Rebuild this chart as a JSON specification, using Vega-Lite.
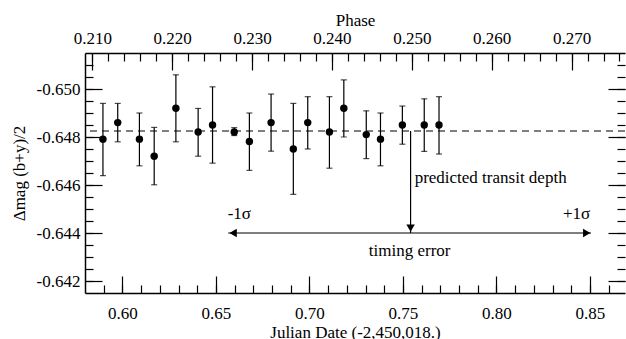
{
  "$schema": "https://vega.github.io/schema/vega-lite/v6.json",
  "width": 626,
  "height": 339,
  "autosize": {"type": "fit", "contains": "padding"},
  "padding": {"left": 10, "top": 11, "right": 0, "bottom": -1},
  "background": "white",
  "config": {
    "font": "Liberation Serif",
    "view": {"stroke": null},
    "axis": {
      "labelFontSize": 17, "titleFontSize": 17, "titleFontWeight": "normal",
      "labelColor": "black", "titleColor": "black", "domainColor": "black", "tickColor": "black",
      "domainWidth": 1.5, "tickWidth": 1.2, "grid": false, "labelOverlap": false, "labelFlush": false
    }
  },
  "datasets": {
    "obs": [
      {"jd": 0.5896, "mag": -0.64791, "lo": -0.64940, "hi": -0.64639},
      {"jd": 0.5975, "mag": -0.64860, "lo": -0.64940, "hi": -0.64780},
      {"jd": 0.6091, "mag": -0.64791, "lo": -0.64900, "hi": -0.64680},
      {"jd": 0.6170, "mag": -0.64720, "lo": -0.64840, "hi": -0.64601},
      {"jd": 0.6286, "mag": -0.64920, "lo": -0.65059, "hi": -0.64780},
      {"jd": 0.6405, "mag": -0.64821, "lo": -0.64919, "hi": -0.64720},
      {"jd": 0.6482, "mag": -0.64850, "lo": -0.65009, "hi": -0.64691},
      {"jd": 0.6598, "mag": -0.64821, "lo": -0.64839, "hi": -0.64806},
      {"jd": 0.6679, "mag": -0.64781, "lo": -0.64900, "hi": -0.64661},
      {"jd": 0.6795, "mag": -0.64860, "lo": -0.64979, "hi": -0.64741},
      {"jd": 0.6914, "mag": -0.64750, "lo": -0.64940, "hi": -0.64561},
      {"jd": 0.6991, "mag": -0.64860, "lo": -0.64968, "hi": -0.64750},
      {"jd": 0.7107, "mag": -0.64821, "lo": -0.64968, "hi": -0.64670},
      {"jd": 0.7184, "mag": -0.64920, "lo": -0.65038, "hi": -0.64800},
      {"jd": 0.7304, "mag": -0.64810, "lo": -0.64909, "hi": -0.64710},
      {"jd": 0.7380, "mag": -0.64791, "lo": -0.64900, "hi": -0.64680},
      {"jd": 0.7497, "mag": -0.64850, "lo": -0.64929, "hi": -0.64770},
      {"jd": 0.7614, "mag": -0.64850, "lo": -0.64959, "hi": -0.64740},
      {"jd": 0.7693, "mag": -0.64850, "lo": -0.64968, "hi": -0.64729}
    ],
    "level": [{"mag": -0.64825}],
    "segments": [
      {"name": "depth", "jd": 0.7541, "jd2": 0.7541, "mag": -0.64825, "mag2": -0.6440},
      {"name": "timing", "jd": 0.6566, "jd2": 0.8506, "mag": -0.6440, "mag2": -0.6440}
    ],
    "heads": [
      {"dir": "down", "jd": 0.7541, "mag": -0.6442},
      {"dir": "left", "jd": 0.6592, "mag": -0.6440},
      {"dir": "right", "jd": 0.8483, "mag": -0.6440}
    ],
    "notes": [
      {"text": "-1σ", "jd": 0.6625, "mag": -0.64479},
      {"text": "+1σ", "jd": 0.8429, "mag": -0.64479},
      {"text": "timing error", "jd": 0.7536, "mag": -0.64326},
      {"text": "predicted transit depth", "jd": 0.7969, "mag": -0.64630}
    ],
    "phase": [{"phase": 0.24, "mag": -0.648}]
  },
  "layer": [
    {
      "data": {"name": "obs"},
      "mark": {"type": "rule", "color": "black", "strokeWidth": 1.2},
      "encoding": {
        "x": {"field": "jd", "type": "quantitative", "scale": {"domain": [0.58, 0.86875], "nice": false, "zero": false},
          "axis": {"orient": "bottom", "title": "Julian Date (-2,450,018.)", "tickSize": -8,
            "values": [0.59,0.6,0.61,0.62,0.63,0.64,0.65,0.66,0.67,0.68,0.69,0.7,0.71,0.72,0.73,0.74,0.75,0.76,0.77,0.78,0.79,0.8,0.81,0.82,0.83,0.84,0.85,0.86],
            "labelExpr": "round(datum.value*100) % 5 == 0 ? format(datum.value, '.2f') : ''",
            "labelPadding": 20, "titlePadding": 3}},
        "y": {"field": "lo", "type": "quantitative", "scale": {"domain": [-0.6515, -0.6415], "reverse": true, "nice": false, "zero": false},
          "axis": {"orient": "left", "title": "Δmag (b+y)/2", "tickSize": -8,
            "values": [-0.651,-0.6505,-0.65,-0.6495,-0.649,-0.6485,-0.648,-0.6475,-0.647,-0.6465,-0.646,-0.6455,-0.645,-0.6445,-0.644,-0.6435,-0.643,-0.6425,-0.642],
            "labelExpr": "round(datum.value*2000) % 4 == 0 ? '-' + format(abs(datum.value), '.3f') : ''",
            "labelPadding": 13, "titlePadding": 8}},
        "y2": {"field": "hi"}
      }
    },
    {
      "data": {"name": "obs"},
      "mark": {"type": "tick", "orient": "horizontal", "color": "black", "size": 6, "thickness": 1.2},
      "encoding": {
        "x": {"field": "jd", "type": "quantitative", "scale": {"domain": [0.58, 0.86875], "nice": false, "zero": false}, "axis": null},
        "y": {"field": "lo", "type": "quantitative", "scale": {"domain": [-0.6515, -0.6415], "reverse": true, "nice": false, "zero": false}, "axis": null}
      }
    },
    {
      "data": {"name": "obs"},
      "mark": {"type": "tick", "orient": "horizontal", "color": "black", "size": 6, "thickness": 1.2},
      "encoding": {
        "x": {"field": "jd", "type": "quantitative", "scale": {"domain": [0.58, 0.86875], "nice": false, "zero": false}, "axis": null},
        "y": {"field": "hi", "type": "quantitative", "scale": {"domain": [-0.6515, -0.6415], "reverse": true, "nice": false, "zero": false}, "axis": null}
      }
    },
    {
      "data": {"name": "level"},
      "mark": {"type": "rule", "color": "black", "strokeWidth": 1, "strokeDash": [7, 5]},
      "encoding": {
        "y": {"field": "mag", "type": "quantitative", "scale": {"domain": [-0.6515, -0.6415], "reverse": true, "nice": false, "zero": false}, "axis": null}
      }
    },
    {
      "data": {"name": "obs"},
      "mark": {"type": "point", "filled": true, "shape": "circle", "size": 55, "color": "black", "opacity": 1},
      "encoding": {
        "x": {"field": "jd", "type": "quantitative", "scale": {"domain": [0.58, 0.86875], "nice": false, "zero": false}, "axis": null},
        "y": {"field": "mag", "type": "quantitative", "scale": {"domain": [-0.6515, -0.6415], "reverse": true, "nice": false, "zero": false}, "axis": null}
      }
    },
    {
      "data": {"name": "segments"},
      "mark": {"type": "rule", "color": "black", "strokeWidth": 1.2},
      "encoding": {
        "x": {"field": "jd", "type": "quantitative", "scale": {"domain": [0.58, 0.86875], "nice": false, "zero": false}, "axis": null},
        "x2": {"field": "jd2"},
        "y": {"field": "mag", "type": "quantitative", "scale": {"domain": [-0.6515, -0.6415], "reverse": true, "nice": false, "zero": false}, "axis": null},
        "y2": {"field": "mag2"}
      }
    },
    {
      "data": {"name": "heads"},
      "transform": [{"filter": "datum.dir == 'down'"}],
      "mark": {"type": "point", "shape": "triangle-down", "filled": true, "size": 72, "color": "black", "opacity": 1},
      "encoding": {
        "x": {"field": "jd", "type": "quantitative", "scale": {"domain": [0.58, 0.86875], "nice": false, "zero": false}, "axis": null},
        "y": {"field": "mag", "type": "quantitative", "scale": {"domain": [-0.6515, -0.6415], "reverse": true, "nice": false, "zero": false}, "axis": null}
      }
    },
    {
      "data": {"name": "heads"},
      "transform": [{"filter": "datum.dir == 'left'"}],
      "mark": {"type": "point", "shape": "triangle-left", "filled": true, "size": 72, "color": "black", "opacity": 1},
      "encoding": {
        "x": {"field": "jd", "type": "quantitative", "scale": {"domain": [0.58, 0.86875], "nice": false, "zero": false}, "axis": null},
        "y": {"field": "mag", "type": "quantitative", "scale": {"domain": [-0.6515, -0.6415], "reverse": true, "nice": false, "zero": false}, "axis": null}
      }
    },
    {
      "data": {"name": "heads"},
      "transform": [{"filter": "datum.dir == 'right'"}],
      "mark": {"type": "point", "shape": "triangle-right", "filled": true, "size": 72, "color": "black", "opacity": 1},
      "encoding": {
        "x": {"field": "jd", "type": "quantitative", "scale": {"domain": [0.58, 0.86875], "nice": false, "zero": false}, "axis": null},
        "y": {"field": "mag", "type": "quantitative", "scale": {"domain": [-0.6515, -0.6415], "reverse": true, "nice": false, "zero": false}, "axis": null}
      }
    },
    {
      "data": {"name": "notes"},
      "mark": {"type": "text", "fontSize": 17, "color": "black", "align": "center", "baseline": "middle"},
      "encoding": {
        "x": {"field": "jd", "type": "quantitative", "scale": {"domain": [0.58, 0.86875], "nice": false, "zero": false}, "axis": null},
        "y": {"field": "mag", "type": "quantitative", "scale": {"domain": [-0.6515, -0.6415], "reverse": true, "nice": false, "zero": false}, "axis": null},
        "text": {"field": "text"}
      }
    },
    {
      "data": {"name": "obs"},
      "mark": {"type": "point", "opacity": 0},
      "encoding": {
        "x": {"field": "jd", "type": "quantitative", "scale": {"domain": [0.58, 0.86875], "nice": false, "zero": false},
          "axis": {"orient": "bottom", "title": null, "labels": false, "domain": false, "tickSize": -17,
            "values": [0.6, 0.65, 0.7, 0.75, 0.8, 0.85]}},
        "y": {"field": "mag", "type": "quantitative", "scale": {"domain": [-0.6515, -0.6415], "reverse": true, "nice": false, "zero": false},
          "axis": {"orient": "left", "title": null, "labels": false, "domain": false, "tickSize": -17,
            "values": [-0.65, -0.648, -0.646, -0.644, -0.642]}}
      }
    },
    {
      "data": {"name": "phase"},
      "mark": {"type": "point", "opacity": 0},
      "encoding": {
        "x": {"field": "phase", "type": "quantitative", "scale": {"domain": [0.20908, 0.27669], "nice": false, "zero": false},
          "axis": {"orient": "top", "title": "Phase", "tickSize": -8,
            "values": [0.21,0.212,0.214,0.216,0.218,0.22,0.222,0.224,0.226,0.228,0.23,0.232,0.234,0.236,0.238,0.24,0.242,0.244,0.246,0.248,0.25,0.252,0.254,0.256,0.258,0.26,0.262,0.264,0.266,0.268,0.27,0.272,0.274,0.276],
            "labelExpr": "round(datum.value*1000) % 10 == 0 ? format(datum.value, '.3f') : ''",
            "labelPadding": 14, "titlePadding": 0}},
        "y": {"field": "mag", "type": "quantitative", "scale": {"domain": [-0.6515, -0.6415], "reverse": true, "nice": false, "zero": false},
          "axis": {"orient": "right", "title": null, "labels": false, "domain": false, "tickSize": -8,
            "values": [-0.651,-0.6505,-0.65,-0.6495,-0.649,-0.6485,-0.648,-0.6475,-0.647,-0.6465,-0.646,-0.6455,-0.645,-0.6445,-0.644,-0.6435,-0.643,-0.6425,-0.642]}}
      }
    },
    {
      "data": {"name": "phase"},
      "mark": {"type": "point", "opacity": 0},
      "encoding": {
        "x": {"field": "phase", "type": "quantitative", "scale": {"domain": [0.20908, 0.27669], "nice": false, "zero": false},
          "axis": {"orient": "top", "title": null, "labels": false, "domain": false, "tickSize": -17,
            "values": [0.21, 0.22, 0.23, 0.24, 0.25, 0.26, 0.27]}},
        "y": {"field": "mag", "type": "quantitative", "scale": {"domain": [-0.6515, -0.6415], "reverse": true, "nice": false, "zero": false},
          "axis": {"orient": "right", "title": null, "labels": false, "domain": false, "tickSize": -17,
            "values": [-0.65, -0.648, -0.646, -0.644, -0.642]}}
      }
    }
  ],
  "resolve": {"scale": {"x": "independent", "y": "independent"}}
}
